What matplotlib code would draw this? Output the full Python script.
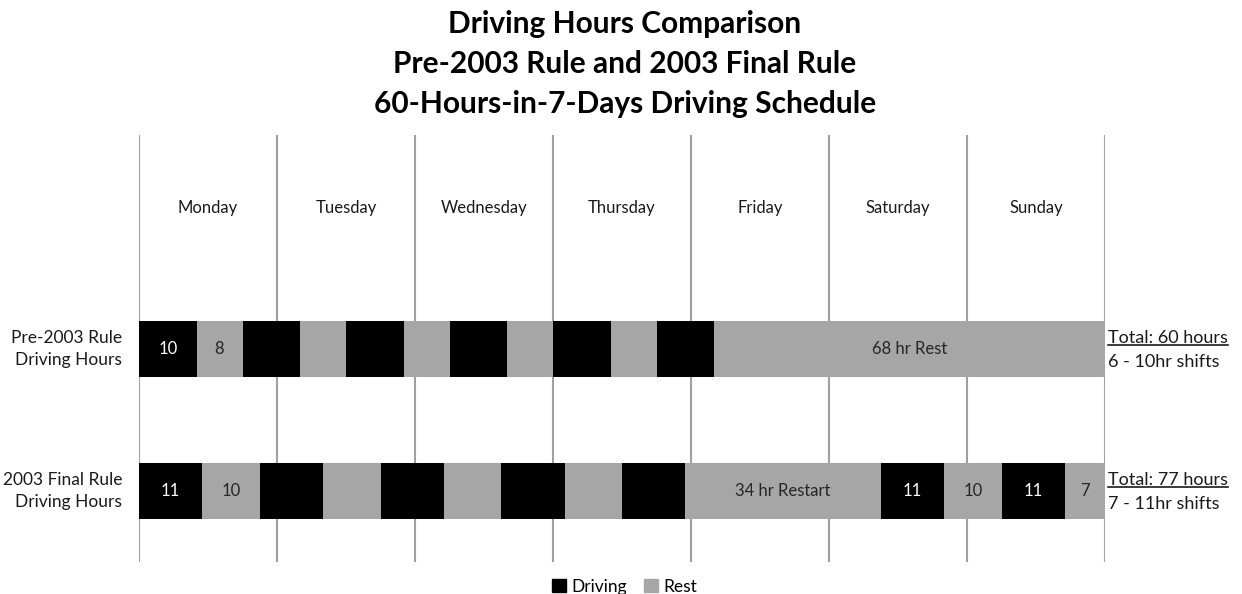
import matplotlib
matplotlib.use("Agg")
import matplotlib.pyplot as plt
from matplotlib.patches import Patch

plt.rcParams['font.family'] = ['Lato', 'DejaVu Sans']

# schedule data (hours), alternating driving / rest segments
days = ["Monday", "Tuesday", "Wednesday", "Thursday", "Friday", "Saturday", "Sunday"]
rows = ["Pre-2003 Rule\nDriving Hours", "2003 Final Rule\nDriving Hours"]

pre_hours = [10, 8, 10, 8, 10, 8, 10, 8, 10, 8, 10, 68]
pre_kind = ["D", "R", "D", "R", "D", "R", "D", "R", "D", "R", "D", "R"]
pre_text = ["10", "8", "", "", "", "", "", "", "", "", "", "68 hr Rest"]

final_hours = [11, 10, 11, 10, 11, 10, 11, 10, 11, 34, 11, 10, 11, 7]
final_kind = ["D", "R", "D", "R", "D", "R", "D", "R", "D", "R", "D", "R", "D", "R"]
final_text = ["11", "10", "", "", "", "", "", "", "", "34 hr Restart", "11", "10", "11", "7"]

totals = ["Total: 60 hours", "Total: 77 hours"]
shifts = ["6 - 10hr shifts", "7 - 11hr shifts"]

title = "Driving Hours Comparison\nPre-2003 Rule and 2003 Final Rule\n60-Hours-in-7-Days Driving Schedule"

DRIVE = "#000000"
REST = "#A6A6A6"
GRID = "#A0A0A0"

fig = plt.figure(figsize=(12.42, 5.94), dpi=100)
ax = fig.add_axes([139 / 1242, 32 / 594, 966 / 1242, 427 / 594])

series = [(pre_hours, pre_kind, pre_text), (final_hours, final_kind, final_text)]
for i, (hrs, kinds, texts) in enumerate(series):
    left = 0
    for h, k, t in zip(hrs, kinds, texts):
        col = DRIVE if k == "D" else REST
        ax.barh(i, h, left=left, height=0.40, color=col, edgecolor="none", zorder=2)
        if t:
            ax.text(left + h / 2, i, t, ha="center", va="center", fontsize=12,
                    color="white" if k == "D" else "#262626", zorder=3)
        left += h

# day separators and labels
for d in range(len(days) + 1):
    ax.axvline(d * 24, color=GRID, lw=1.5, zorder=1)
for d, name in enumerate(days):
    ax.text(d * 24 + 12, -0.99, name, ha="center", va="center", fontsize=12, color="#1a1a1a")

ax.set_xlim(0, 24 * len(days))
ax.set_ylim(1.5, -1.507)
ax.axis("off")

# row labels on the left
for i, lab in enumerate(rows):
    ax.text(-2.9, i, lab, ha="right", va="center", fontsize=12.5, color="#1a1a1a",
            linespacing=1.4)

# totals on the right
tot_texts = []
for i in range(len(rows)):
    t = ax.text(168.6, i - 0.08, totals[i], ha="left", va="center", fontsize=13, color="#1a1a1a")
    ax.text(168.6, i + 0.095, shifts[i], ha="left", va="center", fontsize=13, color="#1a1a1a")
    tot_texts.append(t)

fig.text(0.503, 1 - 64 / 594, title, ha="center", va="center", fontsize=21.5,
         fontweight="bold", linespacing=1.52)

fig.legend(handles=[Patch(color=DRIVE, label="Driving"), Patch(color=REST, label="Rest")],
           loc="center", bbox_to_anchor=(0.503, 0.012), ncol=2, frameon=False,
           fontsize=12.5, handlelength=0.8, handleheight=0.8, handletextpad=0.3,
           columnspacing=1.0)

# underline the totals
fig.canvas.draw()
r = fig.canvas.get_renderer()
for t in tot_texts:
    bb = t.get_window_extent(r).transformed(fig.transFigure.inverted())
    fig.add_artist(plt.Line2D([bb.x0, bb.x1], [bb.y0 + 0.0005, bb.y0 + 0.0005],
                              color="#1a1a1a", lw=1.2, transform=fig.transFigure))

plt.savefig("out.png", dpi=100)
